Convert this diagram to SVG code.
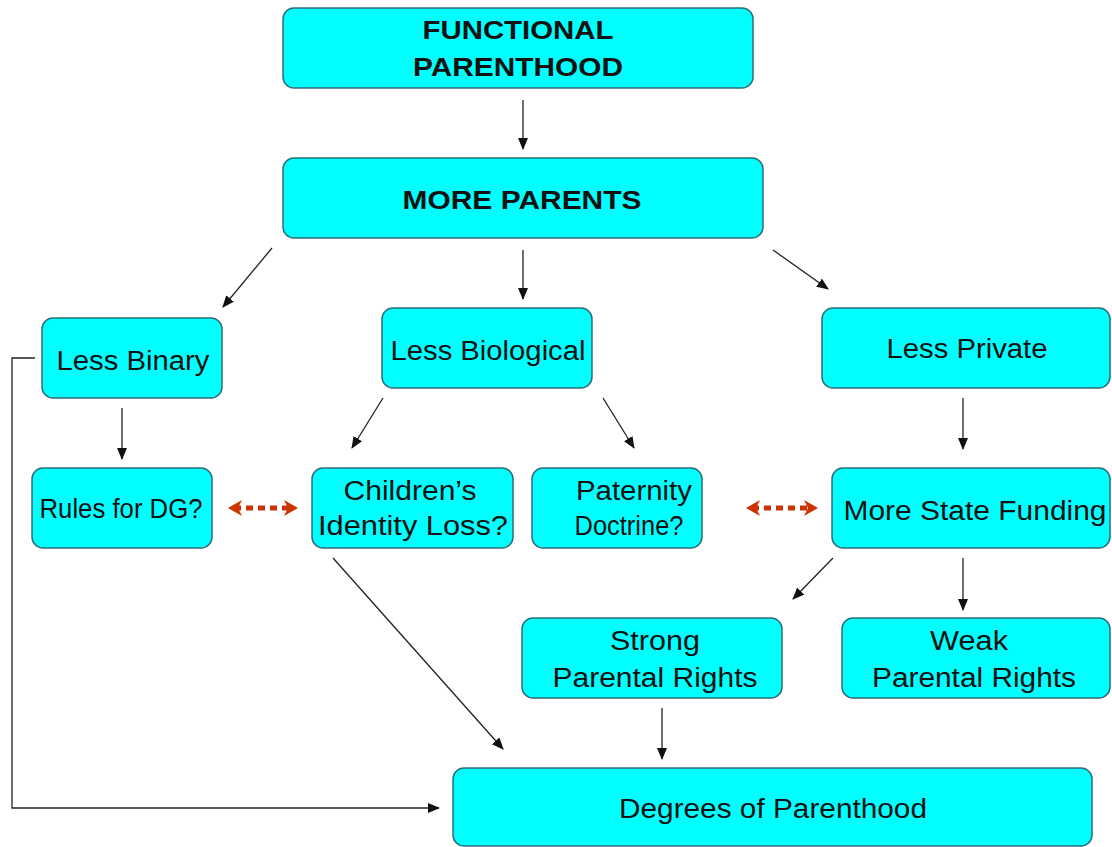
<svg xmlns="http://www.w3.org/2000/svg" width="1112" height="847" viewBox="0 0 1112 847">
<style>
.box{fill:#00FFFF;stroke:#2E6E78;stroke-width:1.5}
.t{font-family:"Liberation Sans",Arial,sans-serif;font-size:27px;fill:#111;text-anchor:middle}
.b{font-weight:bold;font-size:25px}
.c{stroke:#222;stroke-width:1.3;fill:none;marker-end:url(#ah)}
.d{stroke:#CC3300;stroke-width:5;stroke-dasharray:7 5;fill:none;marker-start:url(#rh);marker-end:url(#rh)}
</style>
<defs>
<marker id="ah" markerUnits="userSpaceOnUse" markerWidth="12" markerHeight="10" refX="11" refY="5" orient="auto">
<path d="M0,0 L12,5 L0,10 z" fill="#111"/>
</marker>
<marker id="rh" markerUnits="userSpaceOnUse" markerWidth="14" markerHeight="16" refX="8" refY="8" orient="auto-start-reverse">
<path d="M0,0 L14,8 L0,16 L4,8 z" fill="#CC3300"/>
</marker>
</defs>
<rect width="1112" height="847" fill="#fff"/>
<g id="connectors">
<line class="c" x1="523" y1="100" x2="523" y2="149"/>
<line class="c" x1="272" y1="248" x2="223" y2="307"/>
<line class="c" x1="523" y1="250" x2="523" y2="299"/>
<line class="c" x1="773" y1="250" x2="828" y2="289"/>
<line class="c" x1="122" y1="408" x2="122" y2="459"/>
<line class="c" x1="383" y1="398" x2="352" y2="448"/>
<line class="c" x1="603" y1="398" x2="634" y2="448"/>
<line class="c" x1="963" y1="398" x2="963" y2="449"/>
<line class="c" x1="833" y1="558" x2="793" y2="599"/>
<line class="c" x1="963" y1="558" x2="963" y2="610"/>
<line class="c" x1="333" y1="558" x2="503" y2="749"/>
<line class="c" x1="662" y1="708" x2="662" y2="759"/>
<polyline class="c" points="35,358 12,358 12,808 439,808"/>
<line class="d" x1="234" y1="508" x2="292" y2="508"/>
<line class="d" x1="752" y1="508" x2="812" y2="508"/>
</g>
<g id="n-functional">
<rect class="box" x="283" y="8" width="470" height="80" rx="11"/>
<text class="t b" x="518" y="39" textLength="191" lengthAdjust="spacingAndGlyphs">FUNCTIONAL</text>
<text class="t b" x="518" y="76" textLength="210" lengthAdjust="spacingAndGlyphs">PARENTHOOD</text>
</g>
<g id="n-more-parents">
<rect class="box" x="283" y="158" width="480" height="80" rx="11"/>
<text class="t b" x="522" y="209" textLength="239" lengthAdjust="spacingAndGlyphs">MORE PARENTS</text>
</g>
<g id="n-less-binary">
<rect class="box" x="42" y="318" width="180" height="80" rx="11"/>
<text class="t" x="133" y="370" font-size="25" textLength="153" lengthAdjust="spacingAndGlyphs">Less Binary</text>
</g>
<g id="n-less-biological">
<rect class="box" x="382" y="308" width="210" height="80" rx="11"/>
<text class="t" x="488" y="360" textLength="195" lengthAdjust="spacingAndGlyphs">Less Biological</text>
</g>
<g id="n-less-private">
<rect class="box" x="822" y="308" width="288" height="80" rx="11"/>
<text class="t" x="967" y="358" textLength="161" lengthAdjust="spacingAndGlyphs">Less Private</text>
</g>
<g id="n-rules">
<rect class="box" x="32" y="468" width="180" height="80" rx="11"/>
<text class="t" x="121" y="518" font-size="22" textLength="163" lengthAdjust="spacingAndGlyphs">Rules for DG?</text>
</g>
<g id="n-children">
<rect class="box" x="312" y="468" width="201" height="80" rx="11"/>
<text class="t" x="410" y="500" textLength="133" lengthAdjust="spacingAndGlyphs">Children’s</text>
<text class="t" x="413" y="535" textLength="190" lengthAdjust="spacingAndGlyphs">Identity Loss?</text>
</g>
<g id="n-paternity">
<rect class="box" x="532" y="468" width="170" height="80" rx="11"/>
<text class="t" x="634" y="500" textLength="116" lengthAdjust="spacingAndGlyphs">Paternity</text>
<text class="t" x="629" y="535" textLength="109" lengthAdjust="spacingAndGlyphs">Doctrine?</text>
</g>
<g id="n-state-funding">
<rect class="box" x="832" y="468" width="278" height="80" rx="11"/>
<text class="t" x="975" y="520" textLength="263" lengthAdjust="spacingAndGlyphs">More State Funding</text>
</g>
<g id="n-strong">
<rect class="box" x="522" y="618" width="260" height="80" rx="11"/>
<text class="t" x="655" y="650" textLength="90" lengthAdjust="spacingAndGlyphs">Strong</text>
<text class="t" x="655" y="687" textLength="205" lengthAdjust="spacingAndGlyphs">Parental Rights</text>
</g>
<g id="n-weak">
<rect class="box" x="842" y="618" width="268" height="80" rx="11"/>
<text class="t" x="969" y="650" textLength="78" lengthAdjust="spacingAndGlyphs">Weak</text>
<text class="t" x="974" y="687" textLength="204" lengthAdjust="spacingAndGlyphs">Parental Rights</text>
</g>
<g id="n-degrees">
<rect class="box" x="453" y="768" width="639" height="78" rx="11"/>
<text class="t" x="773" y="818" textLength="308" lengthAdjust="spacingAndGlyphs">Degrees of Parenthood</text>
</g>
</svg>
